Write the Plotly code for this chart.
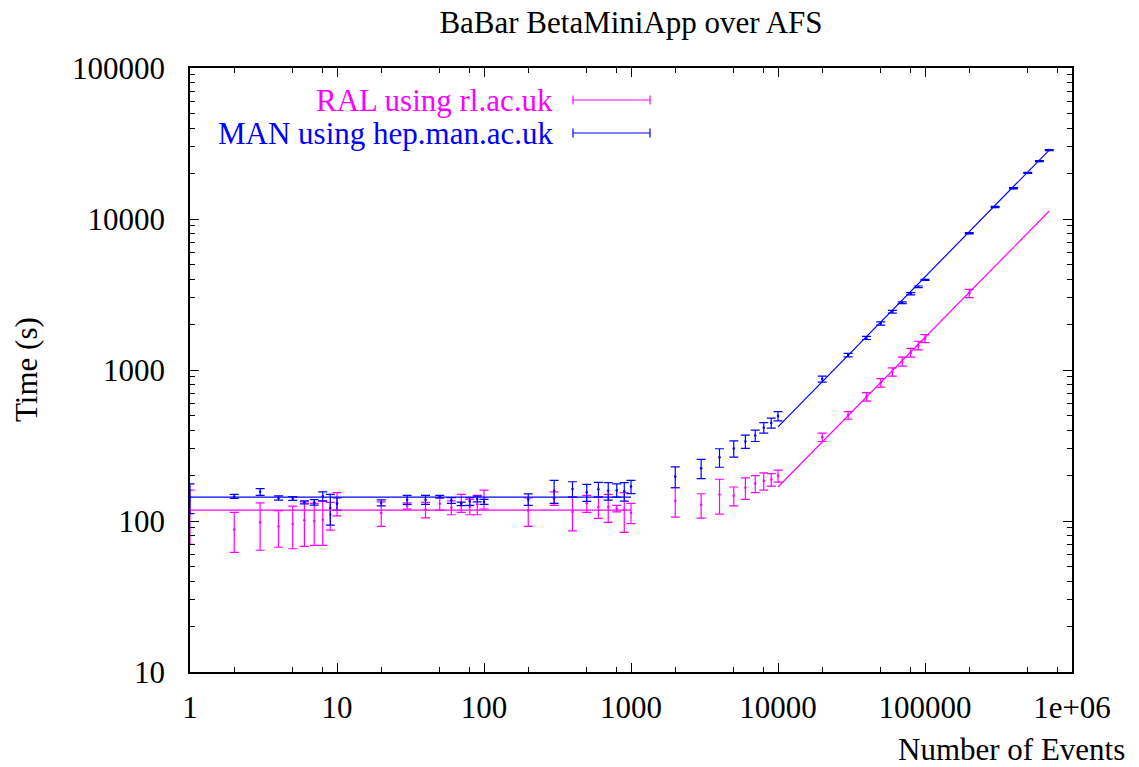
import plotly.graph_objects as go

# ---------------- data ----------------
events = [1, 2, 3, 4, 5, 6, 7, 8, 9, 10,
          20, 30, 40, 50, 60, 70, 80, 90, 100,
          200, 300, 400, 500, 600, 700, 800, 900, 1000,
          2000, 3000, 4000, 5000, 6000, 7000, 8000, 9000, 10000,
          20000, 30000, 40000, 50000, 60000, 70000, 80000, 90000, 100000,
          200000]

ral_time = [115, 88, 98, 92, 95.5, 101, 100, 102, 110, 131,
            113, 126, 119, 130, 123, 132, 124.5, 129, 140,
            117, 141.5, 115, 131, 124, 124, 121, 119, 113.5,
            136, 128, 150, 147, 166, 177, 184, 188, 199,
            359, 501, 665, 823, 972, 1140, 1305, 1455, 1617,
            3217]
ral_err = [45, 26, 34, 25, 30, 33, 31, 33, 23, 23,
           21, 6, 14, 12, 13, 18, 14.5, 19, 20,
           25, 14.5, 29, 17, 20, 26, 6, 35, 17.5,
           30, 23.5, 39, 21, 27, 23, 24, 18, 18,
           23, 29, 43, 53, 62, 78, 87, 95, 100,
           200]

man_events = events + [300000, 400000, 500000, 600000, 700000]
man_time = [144, 145.5, 156, 142, 141, 133, 133, 146, 122, 130,
            132, 138.5, 138.5, 145, 137, 130, 135, 140, 134,
            139, 158.5, 163, 155, 162, 158.5, 160, 157.5, 169,
            197, 223.5, 264, 302, 336.5, 368, 415, 446, 495,
            872, 1255, 1632, 2032, 2430, 2790, 3196, 3555, 3955,
            8050, 12000, 16000, 20200, 24200, 28600]
man_err = [32, 4.5, 8, 4.7, 4, 3, 5.5, 10, 28, 12,
           6, 9.5, 9.5, 3, 6, 3.5, 8, 6, 5,
           12, 27.5, 19, 20, 18, 21, 16, 22, 17,
           31, 32.5, 37, 37, 33.5, 32, 33.5, 34, 35,
           40, 33, 40, 50, 50, 40, 55, 45, 30,
           80, 120, 150, 150, 200, 250]

# fitted lines (flat region and linear-scaling region)
flat_x = [1, 1000]
ral_flat_y = [118, 118]
man_flat_y = [144, 144]
slope_x = [10000, 700000]
ral_slope_y = [168, 11300]
man_slope_y = [420, 28600]

x_tick_vals = [1, 10, 100, 1000, 10000, 100000, 1000000]
x_tick_text = ["1", "10", "100", "1000", "10000", "100000", "1e+06"]
y_tick_vals = [10, 100, 1000, 10000, 100000]
y_tick_text = ["10", "100", "1000", "10000", "100000"]
x_minor = [m * 10 ** d for d in range(6) for m in (2, 5, 8)]
y_minor = [m * 10 ** d for d in range(1, 5) for m in range(2, 10)]

MAGENTA = "#ff00ff"
BLUE = "#0000ff"
FONT = "Liberation Serif"
FS = 31

fig = go.Figure()

def add_series(xs, ys, errs, color):
    fig.add_trace(go.Scatter(
        x=xs, y=ys, mode="markers",
        marker=dict(color=color, size=2.5),
        error_y=dict(type="data", array=errs, visible=True,
                     color=color, thickness=1.2, width=4.5),
        cliponaxis=False, showlegend=False, hoverinfo="x+y"))

def add_line(xs, ys, color):
    fig.add_trace(go.Scatter(x=xs, y=ys, mode="lines",
                             line=dict(color=color, width=1.2),
                             showlegend=False))

add_series(events, ral_time, ral_err, MAGENTA)
add_series(man_events, man_time, man_err, BLUE)
add_line(flat_x, ral_flat_y, MAGENTA)
add_line(slope_x, ral_slope_y, MAGENTA)
add_line(flat_x, man_flat_y, BLUE)
add_line(slope_x, man_slope_y, BLUE)

axis_common = dict(
    showline=True, linecolor="black", linewidth=1.5, mirror="allticks",
    ticks="inside", ticklen=9, tickwidth=1.3, tickcolor="black",
    showgrid=False, zeroline=False,
    tickfont=dict(family=FONT, size=FS, color="black"),
)

fig.update_xaxes(type="log", range=[0, 6], tickmode="array",
                 tickvals=x_tick_vals, ticktext=x_tick_text,
                 minor=dict(tickmode="array", tickvals=x_minor, ticks="inside",
                            ticklen=5, tickwidth=1.2, tickcolor="black",
                            showgrid=False),
                 ticklabelstandoff=7, **axis_common)
fig.update_yaxes(type="log", range=[1, 5], tickmode="array",
                 tickvals=y_tick_vals, ticktext=y_tick_text,
                 minor=dict(tickmode="array", tickvals=y_minor, ticks="inside",
                            ticklen=5, tickwidth=1.2, tickcolor="black",
                            showgrid=False),
                 ticklabelstandoff=17, **axis_common)

L, R, T, B = 190, 67, 68, 95
W, H = 1139, 767
pw, ph = W - L - R, H - T - B

def px(xpix):
    return (xpix - L) / pw

def py(ypix):
    return (H - B - ypix) / ph

annotations = [
    dict(text="Time (s)", x=px(26), y=0.5, xref="paper", yref="paper",
         textangle=-90, showarrow=False, xanchor="center", yanchor="middle",
         font=dict(family=FONT, size=FS, color="black")),
    dict(text="Number of Events", x=px(1127), y=py(750), xref="paper", yref="paper",
         showarrow=False, xanchor="right", yanchor="middle",
         font=dict(family=FONT, size=FS, color="black")),
]

shapes = []
legend_entries = [("RAL using rl.ac.uk", MAGENTA, 100),
                  ("MAN using hep.man.ac.uk", BLUE, 133)]
for label, color, ypix in legend_entries:
    annotations.append(dict(text=label, x=px(555), y=py(ypix), xref="paper", yref="paper",
                            showarrow=False, xanchor="right", yanchor="middle",
                            font=dict(family=FONT, size=FS, color=color)))
    shapes.append(dict(type="line", xref="paper", yref="paper",
                       x0=px(573), x1=px(650), y0=py(ypix), y1=py(ypix),
                       line=dict(color=color, width=1.2)))
    for xe in (573, 650):
        shapes.append(dict(type="line", xref="paper", yref="paper",
                           x0=px(xe), x1=px(xe), y0=py(ypix - 4.5), y1=py(ypix + 4.5),
                           line=dict(color=color, width=1.2)))

fig.update_layout(
    width=W, height=H,
    margin=dict(l=L, r=R, t=T, b=B),
    paper_bgcolor="white", plot_bgcolor="white",
    title=dict(text="BaBar BetaMiniApp over AFS", x=0.5, xref="paper",
               y=1 - 22 / H, yref="container", xanchor="center", yanchor="middle",
               font=dict(family=FONT, size=FS, color="black")),
    annotations=annotations, shapes=shapes,
    showlegend=False,
)

fig.write_html("out.html")
